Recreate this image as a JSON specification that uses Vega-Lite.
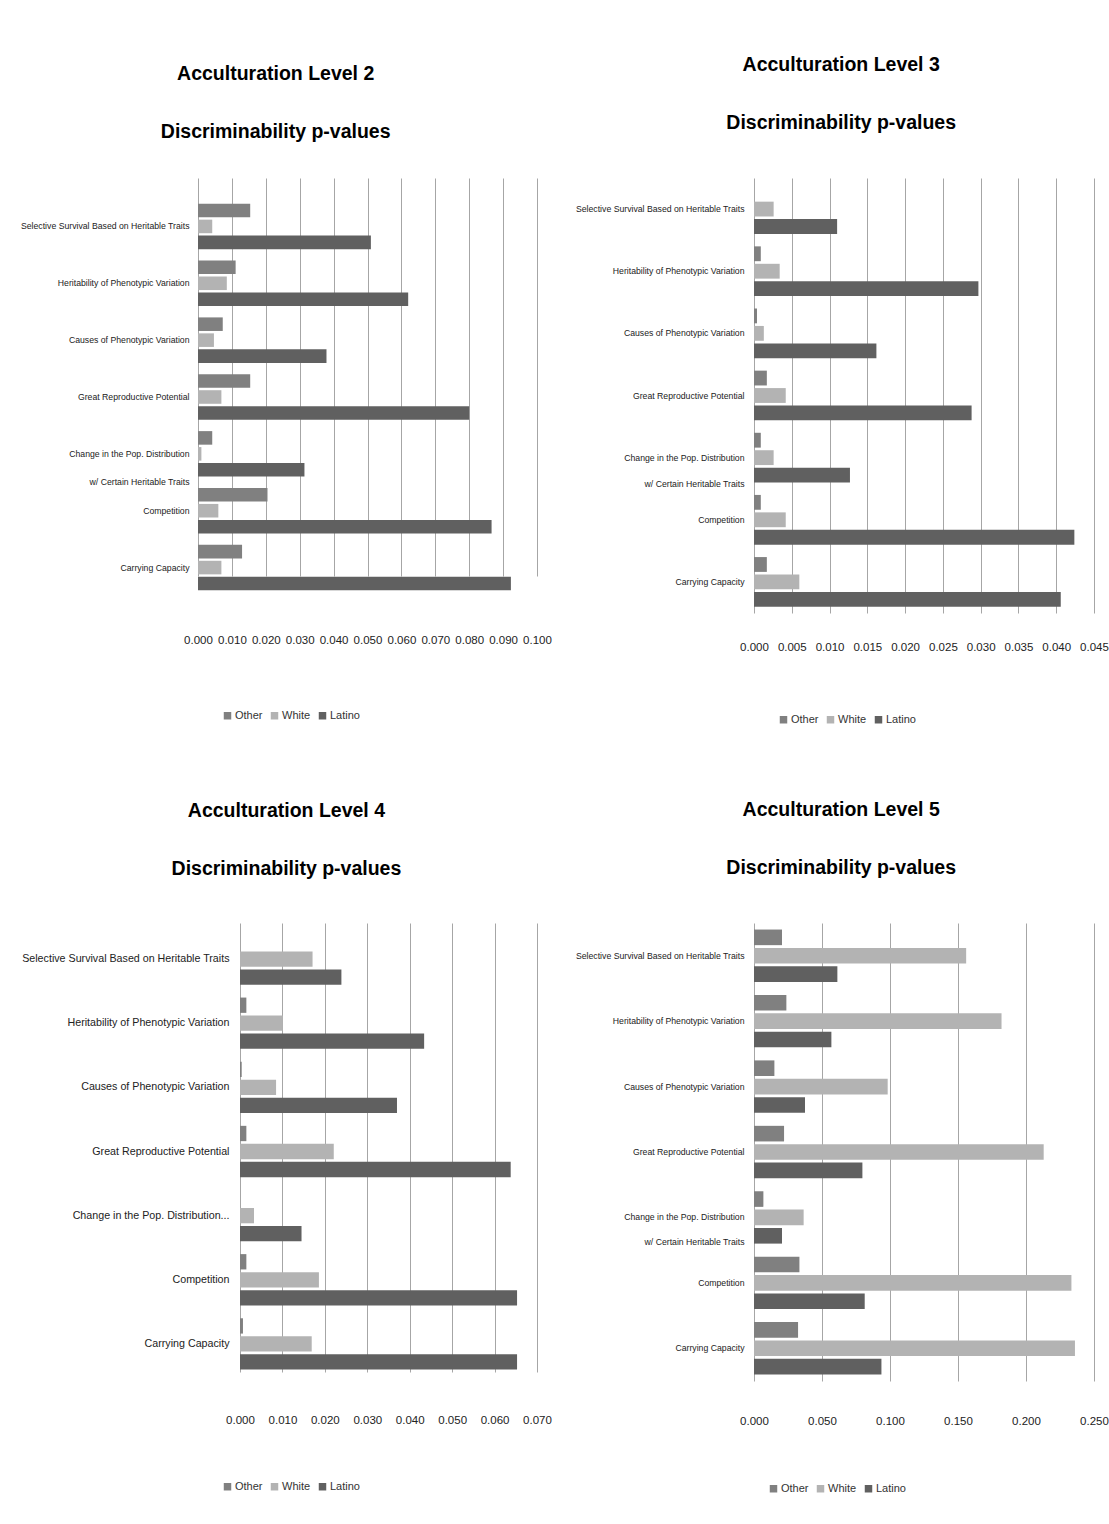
{
  "$schema": "https://vega.github.io/schema/vega-lite/v6.json",
  "background": "white",
  "padding": {"left": 0, "top": 54, "right": 0, "bottom": 0},
  "datasets": {
    "pv": [
      {"level": 2, "trait": "Selective Survival Based on Heritable Traits", "group": "Other", "p": 0.0154},
      {"level": 2, "trait": "Selective Survival Based on Heritable Traits", "group": "White", "p": 0.0042},
      {"level": 2, "trait": "Selective Survival Based on Heritable Traits", "group": "Latino", "p": 0.0510},
      {"level": 2, "trait": "Heritability of Phenotypic Variation", "group": "Other", "p": 0.0111},
      {"level": 2, "trait": "Heritability of Phenotypic Variation", "group": "White", "p": 0.0085},
      {"level": 2, "trait": "Heritability of Phenotypic Variation", "group": "Latino", "p": 0.0620},
      {"level": 2, "trait": "Causes of Phenotypic Variation", "group": "Other", "p": 0.0073},
      {"level": 2, "trait": "Causes of Phenotypic Variation", "group": "White", "p": 0.0047},
      {"level": 2, "trait": "Causes of Phenotypic Variation", "group": "Latino", "p": 0.0379},
      {"level": 2, "trait": "Great Reproductive Potential", "group": "Other", "p": 0.0154},
      {"level": 2, "trait": "Great Reproductive Potential", "group": "White", "p": 0.0069},
      {"level": 2, "trait": "Great Reproductive Potential", "group": "Latino", "p": 0.0800},
      {"level": 2, "trait": "Change in the Pop. Distribution w/ Certain Heritable Traits", "group": "Other", "p": 0.0042},
      {"level": 2, "trait": "Change in the Pop. Distribution w/ Certain Heritable Traits", "group": "White", "p": 0.0010},
      {"level": 2, "trait": "Change in the Pop. Distribution w/ Certain Heritable Traits", "group": "Latino", "p": 0.0314},
      {"level": 2, "trait": "Competition", "group": "Other", "p": 0.0205},
      {"level": 2, "trait": "Competition", "group": "White", "p": 0.0060},
      {"level": 2, "trait": "Competition", "group": "Latino", "p": 0.0866},
      {"level": 2, "trait": "Carrying Capacity", "group": "Other", "p": 0.0130},
      {"level": 2, "trait": "Carrying Capacity", "group": "White", "p": 0.0069},
      {"level": 2, "trait": "Carrying Capacity", "group": "Latino", "p": 0.0923},

      {"level": 3, "trait": "Selective Survival Based on Heritable Traits", "group": "Other", "p": 0},
      {"level": 3, "trait": "Selective Survival Based on Heritable Traits", "group": "White", "p": 0.0026},
      {"level": 3, "trait": "Selective Survival Based on Heritable Traits", "group": "Latino", "p": 0.0110},
      {"level": 3, "trait": "Heritability of Phenotypic Variation", "group": "Other", "p": 0.0009},
      {"level": 3, "trait": "Heritability of Phenotypic Variation", "group": "White", "p": 0.0034},
      {"level": 3, "trait": "Heritability of Phenotypic Variation", "group": "Latino", "p": 0.0297},
      {"level": 3, "trait": "Causes of Phenotypic Variation", "group": "Other", "p": 0.0004},
      {"level": 3, "trait": "Causes of Phenotypic Variation", "group": "White", "p": 0.0013},
      {"level": 3, "trait": "Causes of Phenotypic Variation", "group": "Latino", "p": 0.0162},
      {"level": 3, "trait": "Great Reproductive Potential", "group": "Other", "p": 0.0017},
      {"level": 3, "trait": "Great Reproductive Potential", "group": "White", "p": 0.0042},
      {"level": 3, "trait": "Great Reproductive Potential", "group": "Latino", "p": 0.0288},
      {"level": 3, "trait": "Change in the Pop. Distribution w/ Certain Heritable Traits", "group": "Other", "p": 0.0009},
      {"level": 3, "trait": "Change in the Pop. Distribution w/ Certain Heritable Traits", "group": "White", "p": 0.0026},
      {"level": 3, "trait": "Change in the Pop. Distribution w/ Certain Heritable Traits", "group": "Latino", "p": 0.0127},
      {"level": 3, "trait": "Competition", "group": "Other", "p": 0.0009},
      {"level": 3, "trait": "Competition", "group": "White", "p": 0.0042},
      {"level": 3, "trait": "Competition", "group": "Latino", "p": 0.0424},
      {"level": 3, "trait": "Carrying Capacity", "group": "Other", "p": 0.0017},
      {"level": 3, "trait": "Carrying Capacity", "group": "White", "p": 0.0060},
      {"level": 3, "trait": "Carrying Capacity", "group": "Latino", "p": 0.0406},

      {"level": 4, "trait": "Selective Survival Based on Heritable Traits", "group": "Other", "p": 0},
      {"level": 4, "trait": "Selective Survival Based on Heritable Traits", "group": "White", "p": 0.0171},
      {"level": 4, "trait": "Selective Survival Based on Heritable Traits", "group": "Latino", "p": 0.0239},
      {"level": 4, "trait": "Heritability of Phenotypic Variation", "group": "Other", "p": 0.0015},
      {"level": 4, "trait": "Heritability of Phenotypic Variation", "group": "White", "p": 0.0101},
      {"level": 4, "trait": "Heritability of Phenotypic Variation", "group": "Latino", "p": 0.0434},
      {"level": 4, "trait": "Causes of Phenotypic Variation", "group": "Other", "p": 0.0004},
      {"level": 4, "trait": "Causes of Phenotypic Variation", "group": "White", "p": 0.0085},
      {"level": 4, "trait": "Causes of Phenotypic Variation", "group": "Latino", "p": 0.0370},
      {"level": 4, "trait": "Great Reproductive Potential", "group": "Other", "p": 0.0015},
      {"level": 4, "trait": "Great Reproductive Potential", "group": "White", "p": 0.0221},
      {"level": 4, "trait": "Great Reproductive Potential", "group": "Latino", "p": 0.0638},
      {"level": 4, "trait": "Change in the Pop. Distribution w/ Certain Heritable Traits", "group": "Other", "p": 0},
      {"level": 4, "trait": "Change in the Pop. Distribution w/ Certain Heritable Traits", "group": "White", "p": 0.0033},
      {"level": 4, "trait": "Change in the Pop. Distribution w/ Certain Heritable Traits", "group": "Latino", "p": 0.0145},
      {"level": 4, "trait": "Competition", "group": "Other", "p": 0.0015},
      {"level": 4, "trait": "Competition", "group": "White", "p": 0.0186},
      {"level": 4, "trait": "Competition", "group": "Latino", "p": 0.0653},
      {"level": 4, "trait": "Carrying Capacity", "group": "Other", "p": 0.0007},
      {"level": 4, "trait": "Carrying Capacity", "group": "White", "p": 0.0169},
      {"level": 4, "trait": "Carrying Capacity", "group": "Latino", "p": 0.0653},

      {"level": 5, "trait": "Selective Survival Based on Heritable Traits", "group": "Other", "p": 0.0206},
      {"level": 5, "trait": "Selective Survival Based on Heritable Traits", "group": "White", "p": 0.1560},
      {"level": 5, "trait": "Selective Survival Based on Heritable Traits", "group": "Latino", "p": 0.0613},
      {"level": 5, "trait": "Heritability of Phenotypic Variation", "group": "Other", "p": 0.0238},
      {"level": 5, "trait": "Heritability of Phenotypic Variation", "group": "White", "p": 0.1820},
      {"level": 5, "trait": "Heritability of Phenotypic Variation", "group": "Latino", "p": 0.0569},
      {"level": 5, "trait": "Causes of Phenotypic Variation", "group": "Other", "p": 0.0150},
      {"level": 5, "trait": "Causes of Phenotypic Variation", "group": "White", "p": 0.0983},
      {"level": 5, "trait": "Causes of Phenotypic Variation", "group": "Latino", "p": 0.0375},
      {"level": 5, "trait": "Great Reproductive Potential", "group": "Other", "p": 0.0221},
      {"level": 5, "trait": "Great Reproductive Potential", "group": "White", "p": 0.2130},
      {"level": 5, "trait": "Great Reproductive Potential", "group": "Latino", "p": 0.0797},
      {"level": 5, "trait": "Change in the Pop. Distribution w/ Certain Heritable Traits", "group": "Other", "p": 0.0069},
      {"level": 5, "trait": "Change in the Pop. Distribution w/ Certain Heritable Traits", "group": "White", "p": 0.0365},
      {"level": 5, "trait": "Change in the Pop. Distribution w/ Certain Heritable Traits", "group": "Latino", "p": 0.0206},
      {"level": 5, "trait": "Competition", "group": "Other", "p": 0.0334},
      {"level": 5, "trait": "Competition", "group": "White", "p": 0.2334},
      {"level": 5, "trait": "Competition", "group": "Latino", "p": 0.0814},
      {"level": 5, "trait": "Carrying Capacity", "group": "Other", "p": 0.0324},
      {"level": 5, "trait": "Carrying Capacity", "group": "White", "p": 0.2360},
      {"level": 5, "trait": "Carrying Capacity", "group": "Latino", "p": 0.0937}
    ]
  },
  "data": {"name": "pv"},
  "columns": 2,
  "spacing": {"row": 74, "column": 22},
  "resolve": {
    "scale": {"x": "independent", "y": "independent", "yOffset": "independent", "color": "independent"},
    "legend": {"color": "independent"}
  },
  "concat": [
    {
      "width": 339, "height": 418,
      "title": {"text": ["Acculturation Level 2", "Discriminability p-values"], "offset": 36},
      "transform": [{"filter": "datum.level == 2"}],
      "mark": {"type": "bar"},
      "encoding": {
        "y": {"field": "trait", "type": "nominal",
          "sort": ["Selective Survival Based on Heritable Traits", "Heritability of Phenotypic Variation", "Causes of Phenotypic Variation", "Great Reproductive Potential", "Change in the Pop. Distribution w/ Certain Heritable Traits", "Competition", "Carrying Capacity"],
          "scale": {"paddingInner": 0.2, "paddingOuter": 0.1, "range": [20, 418]},
          "axis": {"title": null, "labelFontSize": 8.7, "minExtent": 198, "maxExtent": 198, "labelLimit": 190, "labelPadding": 9, "labelLineHeight": 28,
            "labelExpr": "datum.label == 'Change in the Pop. Distribution w/ Certain Heritable Traits' ? ['Change in the Pop. Distribution', 'w/ Certain Heritable Traits'] : datum.label"}},
        "yOffset": {"field": "group", "type": "nominal", "sort": ["Other", "White", "Latino"], "scale": {"paddingInner": 0.15}},
        "x": {"field": "p", "type": "quantitative", "scale": {"domain": [0, 0.1], "nice": false},
          "axis": {"title": null, "values": [0, 0.01, 0.02, 0.03, 0.04, 0.05, 0.06, 0.07, 0.08, 0.09, 0.1], "format": ".3f", "labelPadding": 38}},
        "color": {"field": "group", "type": "nominal", "scale": {"domain": ["Other", "White", "Latino"], "range": ["#808080", "#b3b3b3", "#606060"]},
          "legend": {"orient": "none", "legendX": 24, "legendY": 532}}
      }
    },
    {
      "width": 340, "height": 435,
      "title": {"text": ["Acculturation Level 3", "Discriminability p-values"], "offset": 45},
      "transform": [{"filter": "datum.level == 3"}],
      "mark": {"type": "bar"},
      "encoding": {
        "y": {"field": "trait", "type": "nominal",
          "sort": ["Selective Survival Based on Heritable Traits", "Heritability of Phenotypic Variation", "Causes of Phenotypic Variation", "Great Reproductive Potential", "Change in the Pop. Distribution w/ Certain Heritable Traits", "Competition", "Carrying Capacity"],
          "scale": {"paddingInner": 0.2, "paddingOuter": 0.1},
          "axis": {"title": null, "labelFontSize": 8.7, "minExtent": 180, "maxExtent": 180, "labelLimit": 175, "labelPadding": 10, "labelLineHeight": 26,
            "labelExpr": "datum.label == 'Change in the Pop. Distribution w/ Certain Heritable Traits' ? ['Change in the Pop. Distribution', 'w/ Certain Heritable Traits'] : datum.label"}},
        "yOffset": {"field": "group", "type": "nominal", "sort": ["Other", "White", "Latino"], "scale": {"paddingInner": 0.15}},
        "x": {"field": "p", "type": "quantitative", "scale": {"domain": [0, 0.045], "nice": false},
          "axis": {"title": null, "values": [0, 0.005, 0.01, 0.015, 0.02, 0.025, 0.03, 0.035, 0.04, 0.045], "format": ".3f", "labelPadding": 28}},
        "color": {"field": "group", "type": "nominal", "scale": {"domain": ["Other", "White", "Latino"], "range": ["#808080", "#b3b3b3", "#606060"]},
          "legend": {"orient": "none", "legendX": 24, "legendY": 536}}
      }
    },
    {
      "width": 339, "height": 453,
      "title": {"text": ["Acculturation Level 4", "Discriminability p-values"], "offset": 44},
      "transform": [{"filter": "datum.level == 4"}],
      "mark": {"type": "bar"},
      "encoding": {
        "y": {"field": "trait", "type": "nominal",
          "sort": ["Selective Survival Based on Heritable Traits", "Heritability of Phenotypic Variation", "Causes of Phenotypic Variation", "Great Reproductive Potential", "Change in the Pop. Distribution w/ Certain Heritable Traits", "Competition", "Carrying Capacity"],
          "scale": {"paddingInner": 0.2, "paddingOuter": 0.1, "range": [4, 453]},
          "axis": {"title": null, "labelFontSize": 10.7, "offset": -42, "labelLimit": 230, "labelPadding": 11,
            "labelExpr": "datum.label == 'Change in the Pop. Distribution w/ Certain Heritable Traits' ? 'Change in the Pop. Distribution...' : datum.label"}},
        "yOffset": {"field": "group", "type": "nominal", "sort": ["Other", "White", "Latino"], "scale": {"paddingInner": 0.15}},
        "x": {"field": "p", "type": "quantitative", "scale": {"domain": [0, 0.07], "nice": false, "range": [42, 339]},
          "axis": {"title": null, "values": [0, 0.01, 0.02, 0.03, 0.04, 0.05, 0.06, 0.07], "format": ".3f", "labelPadding": 38}},
        "color": {"field": "group", "type": "nominal", "scale": {"domain": ["Other", "White", "Latino"], "range": ["#808080", "#b3b3b3", "#606060"]},
          "legend": {"orient": "none", "legendX": 24, "legendY": 558}}
      }
    },
    {
      "width": 340, "height": 458,
      "title": {"text": ["Acculturation Level 5", "Discriminability p-values"], "offset": 45},
      "transform": [{"filter": "datum.level == 5"}],
      "mark": {"type": "bar"},
      "encoding": {
        "y": {"field": "trait", "type": "nominal",
          "sort": ["Selective Survival Based on Heritable Traits", "Heritability of Phenotypic Variation", "Causes of Phenotypic Variation", "Great Reproductive Potential", "Change in the Pop. Distribution w/ Certain Heritable Traits", "Competition", "Carrying Capacity"],
          "scale": {"paddingInner": 0.2, "paddingOuter": 0.1},
          "axis": {"title": null, "labelFontSize": 8.7, "minExtent": 180, "maxExtent": 180, "labelLimit": 175, "labelPadding": 10, "labelLineHeight": 25,
            "labelExpr": "datum.label == 'Change in the Pop. Distribution w/ Certain Heritable Traits' ? ['Change in the Pop. Distribution', 'w/ Certain Heritable Traits'] : datum.label"}},
        "yOffset": {"field": "group", "type": "nominal", "sort": ["Other", "White", "Latino"], "scale": {"paddingInner": 0.15}},
        "x": {"field": "p", "type": "quantitative", "scale": {"domain": [0, 0.25], "nice": false},
          "axis": {"title": null, "values": [0, 0.05, 0.1, 0.15, 0.2, 0.25], "format": ".3f", "labelPadding": 34}},
        "color": {"field": "group", "type": "nominal", "scale": {"domain": ["Other", "White", "Latino"], "range": ["#808080", "#b3b3b3", "#606060"]},
          "legend": {"orient": "none", "legendX": 14, "legendY": 560}}
      }
    }
  ],
  "config": {
    "font": "Liberation Sans",
    "view": {"stroke": null},
    "title": {"fontSize": 19.5, "fontWeight": "bold", "lineHeight": 58, "anchor": "middle", "frame": "bounds", "color": "#000000", "font": "Liberation Sans"},
    "axis": {"labelColor": "#222222", "labelFont": "Liberation Sans", "ticks": false, "domain": false, "labelOverlap": false},
    "axisY": {"grid": false, "labelAlign": "right"},
    "axisX": {"grid": true, "gridColor": "#a6a6a6", "gridWidth": 1, "labelFontSize": 11.5, "labelFlush": false},
    "legend": {"direction": "horizontal", "title": null, "labelFontSize": 11, "labelColor": "#333333", "symbolType": "square", "symbolSize": 56, "symbolStrokeWidth": 0, "labelOffset": 2, "columnPadding": 6, "labelFont": "Liberation Sans"}
  }
}
